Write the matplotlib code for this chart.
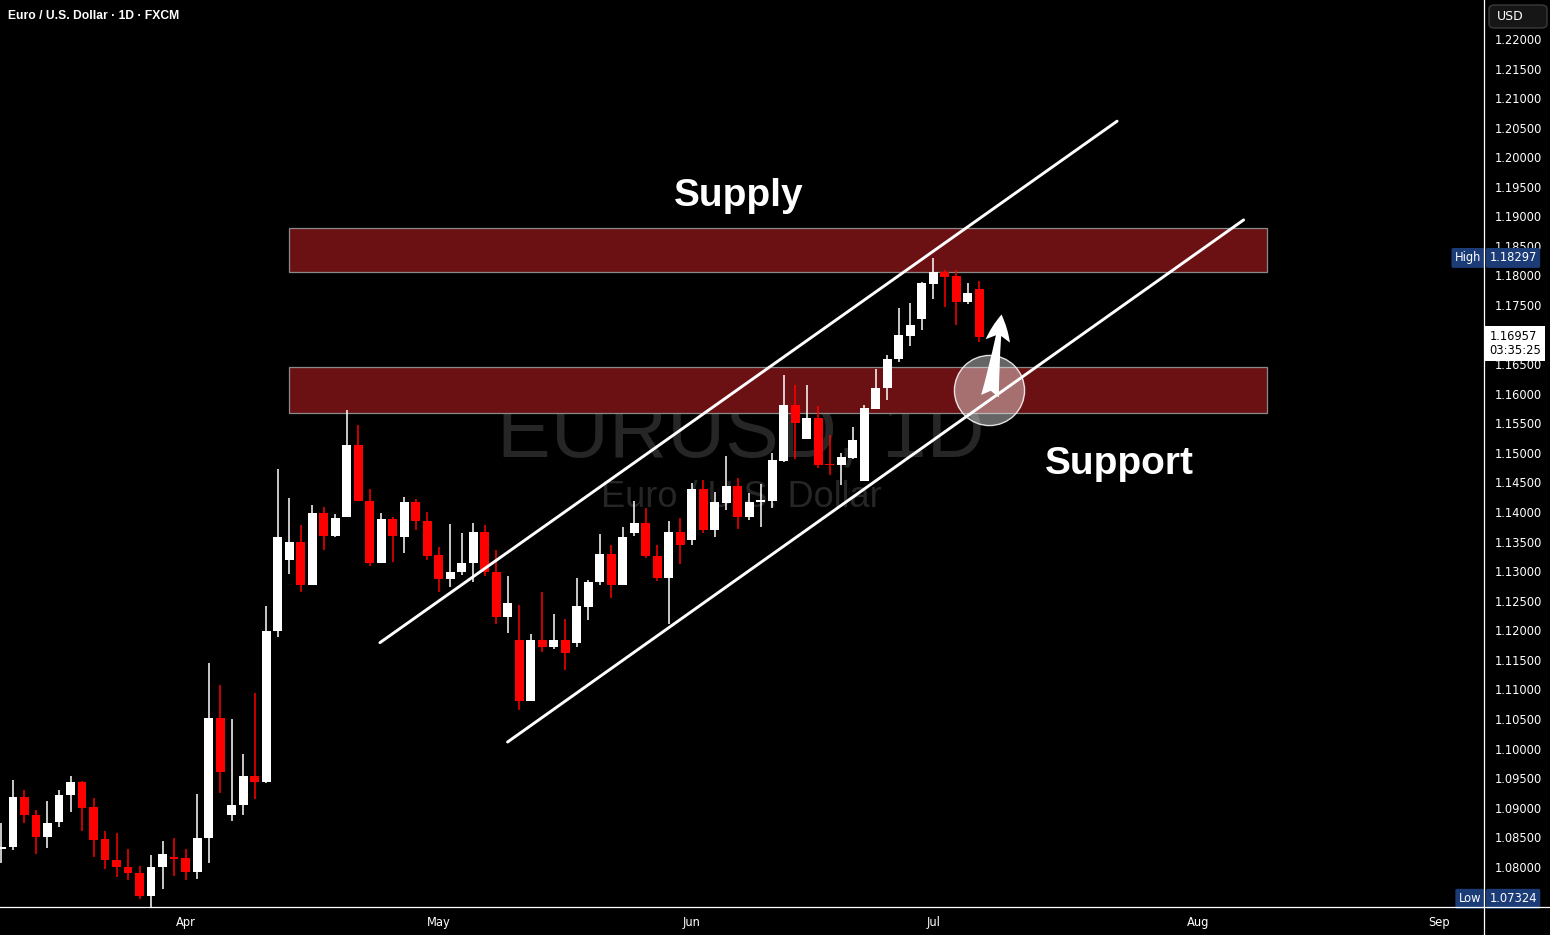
import matplotlib
matplotlib.use("Agg")
import matplotlib.pyplot as plt
import matplotlib.transforms as mtransforms
from matplotlib.patches import Rectangle, FancyBboxPatch
from matplotlib.lines import Line2D
import numpy as np
import pandas as pd

# ---------------------------------------------------------------------------
# Data (EURUSD daily)
# ---------------------------------------------------------------------------
dates = pd.bdate_range("2025-03-10", "2025-07-07")

opens = [1.0830, 1.0833, 1.0918, 1.0888, 1.0850, 1.0875, 1.0921, 1.0944, 1.0901, 1.0847,
         1.0812, 1.0800, 1.0790, 1.0751, 1.0799, 1.0817, 1.0815, 1.0792, 1.0848, 1.1052,
         1.0887, 1.0904, 1.0954, 1.0944, 1.1198, 1.1319, 1.1350, 1.1277, 1.1399, 1.1360,
         1.1391, 1.1513, 1.1419, 1.1313, 1.1388, 1.1357, 1.1417, 1.1385, 1.1327, 1.1286,
         1.1299, 1.1313, 1.1366, 1.1299, 1.1223, 1.1184, 1.1081, 1.1184, 1.1172, 1.1184,
         1.1178, 1.1240, 1.1281, 1.1329, 1.1277, 1.1364, 1.1382, 1.1326, 1.1289, 1.1366,
         1.1352, 1.1439, 1.1369, 1.1416, 1.1444, 1.1392, 1.1417, 1.1419, 1.1487, 1.1581,
         1.1524, 1.1559, 1.1480, 1.1479, 1.1492, 1.1453, 1.1575, 1.1609, 1.1658, 1.1698,
         1.1727, 1.1786, 1.1806, 1.1799, 1.1756, 1.1777]
highs = [1.0874, 1.0947, 1.0930, 1.0896, 1.0912, 1.0930, 1.0954, 1.0945, 1.0917, 1.0861,
         1.0857, 1.0830, 1.0802, 1.0820, 1.0844, 1.0849, 1.0830, 1.0923, 1.1145, 1.1108,
         1.1050, 1.0991, 1.1094, 1.1241, 1.1473, 1.1424, 1.1378, 1.1412, 1.1409, 1.1397,
         1.1573, 1.1547, 1.1439, 1.1399, 1.1392, 1.1426, 1.1422, 1.1400, 1.1341, 1.1380,
         1.1365, 1.1382, 1.1378, 1.1336, 1.1292, 1.1243, 1.1194, 1.1265, 1.1228, 1.1219,
         1.1289, 1.1285, 1.1363, 1.1344, 1.1375, 1.1419, 1.1407, 1.1344, 1.1385, 1.1390,
         1.1449, 1.1454, 1.1434, 1.1495, 1.1458, 1.1432, 1.1448, 1.1500, 1.1632, 1.1615,
         1.1615, 1.1579, 1.1530, 1.1500, 1.1544, 1.1581, 1.1642, 1.1666, 1.1745, 1.1754,
         1.1789, 1.18297, 1.1809, 1.1809, 1.1787, 1.1791]
lows = [1.0806, 1.0829, 1.0874, 1.0822, 1.0831, 1.0868, 1.0892, 1.0861, 1.0816, 1.0797,
        1.0782, 1.0777, 1.0745, 1.07324, 1.0763, 1.0784, 1.0778, 1.0780, 1.0806, 1.0924,
        1.0878, 1.0888, 1.0914, 1.0942, 1.1188, 1.1296, 1.1264, 1.1277, 1.1335, 1.1357,
        1.1391, 1.1418, 1.1308, 1.1313, 1.1316, 1.1330, 1.1370, 1.1318, 1.1265, 1.1274,
        1.1294, 1.1281, 1.1292, 1.1211, 1.1196, 1.1066, 1.1081, 1.1164, 1.1169, 1.1132,
        1.1171, 1.1218, 1.1277, 1.1255, 1.1277, 1.1360, 1.1323, 1.1284, 1.1211, 1.1312,
        1.1345, 1.1364, 1.1357, 1.1404, 1.1372, 1.1387, 1.1374, 1.1406, 1.1484, 1.1489,
        1.1524, 1.1475, 1.1462, 1.1446, 1.1489, 1.1453, 1.1575, 1.1590, 1.1653, 1.1681,
        1.1708, 1.1761, 1.1747, 1.1717, 1.1751, 1.1687]
closes = [1.0834, 1.0918, 1.0887, 1.0850, 1.0874, 1.0922, 1.0944, 1.0900, 1.0846, 1.0811,
          1.0799, 1.0789, 1.0751, 1.0800, 1.0822, 1.0813, 1.0792, 1.0849, 1.1052, 1.0961,
          1.0905, 1.0954, 1.0944, 1.1199, 1.1358, 1.1350, 1.1277, 1.1399, 1.1360, 1.1390,
          1.1513, 1.1418, 1.1313, 1.1388, 1.1360, 1.1417, 1.1384, 1.1326, 1.1286, 1.1299,
          1.1314, 1.1366, 1.1298, 1.1223, 1.1246, 1.1081, 1.1184, 1.1172, 1.1184, 1.1161,
          1.1241, 1.1282, 1.1329, 1.1277, 1.1358, 1.1382, 1.1325, 1.1289, 1.1366, 1.1345,
          1.1439, 1.1369, 1.1417, 1.1444, 1.1392, 1.1417, 1.1420, 1.1488, 1.1581, 1.1550,
          1.1559, 1.1479, 1.1479, 1.1493, 1.1522, 1.1576, 1.1610, 1.1659, 1.1700, 1.1716,
          1.1787, 1.1806, 1.1798, 1.1756, 1.1771, 1.16957]

# zones: (first bar, last bar, bottom, top)
supply_zone = (25, 110, 1.1806, 1.1880)
support_zone = (25, 110, 1.1568, 1.1645)

# channel lines: (x0, y0, x1, y1) in bar index / price
upper_line = (32.9, 1.1179, 97.0, 1.2061)
lower_line = (44.0, 1.1011, 108.0, 1.1894)

circle_pt = (85.9, 1.1607)
arrow_from = (85.95, 1.1596)
arrow_to = (86.95, 1.1734)

month_labels = ["Apr", "May", "Jun", "Jul", "Aug", "Sep"]
countdown = "03:35:25"

# ---------------------------------------------------------------------------
# Figure
# ---------------------------------------------------------------------------
W, H = 1550, 935
fig = plt.figure(figsize=(W / 100, H / 100), dpi=100, facecolor="black")
ax = fig.add_axes([0, (H - 907) / H, 1484 / W, 907 / H], facecolor="black")

x = np.arange(len(opens))
o = np.array(opens); c = np.array(closes)
hi = np.array(highs); lo = np.array(lows)
up = c >= o
cols = np.where(up, "white", "#ff0000")

ax.vlines(x, lo, hi, colors=cols, linewidth=1.1, zorder=3)
body_lo = np.minimum(o, c)
body_h = np.maximum(np.abs(c - o), 0.00018)
ax.bar(x, body_h, bottom=body_lo, width=0.78, color=cols, linewidth=0, zorder=4)

# watermark
ax.text(64.3, 1.1529, "EURUSD, 1D", color="#262626", fontsize=58,
        family="Liberation Sans", ha="center", va="center", zorder=1)
ax.text(64.3, 1.1425, "Euro / U.S. Dollar", color="#262626", fontsize=26,
        family="Liberation Sans", ha="center", va="center", zorder=1)

# zones
for z in (supply_zone, support_zone):
    ax.add_patch(Rectangle((z[0], z[2]), z[1] - z[0], z[3] - z[2],
                           facecolor="#6b1114", edgecolor="#8a8a8a", lw=0.9, zorder=2))

# channel
for ln in (upper_line, lower_line):
    ax.plot([ln[0], ln[2]], [ln[1], ln[3]], color="white", lw=2.1,
            solid_capstyle="round", zorder=5)

ax.scatter([circle_pt[0]], [circle_pt[1]], s=2550, facecolor=(1, 1, 1, 0.4),
           edgecolor=(1, 1, 1, 0.85), linewidth=1.0, zorder=6)
ax.annotate("", xy=arrow_to, xytext=arrow_from,
            arrowprops=dict(arrowstyle="fancy,head_length=0.6,head_width=0.55,tail_width=0.4",
                            color="white", lw=0, mutation_scale=32, shrinkA=0, shrinkB=0),
            zorder=7)

ax.text(64.1, 1.1935, "Supply", color="white", fontsize=28, fontweight="bold",
        family="Liberation Sans", ha="center", va="center", zorder=8)
ax.text(97.2, 1.1482, "Support", color="white", fontsize=28, fontweight="bold",
        family="Liberation Sans", ha="center", va="center", zorder=8)

# axes
ax.set_xlim(-0.13, 128.9)
ax.set_ylim(1.07320, 1.22659)
all_days = pd.bdate_range("2025-03-10", "2025-09-30")
month_pos = [int(np.argmax(all_days.month == m)) for m in (4, 5, 6, 7, 8, 9)]
ax.set_xticks(month_pos)
ax.set_xticklabels(month_labels)
last = closes[-1]
yt = np.arange(1.080, 1.2201, 0.005)
ax.set_yticks(yt)
# the tick hidden under the last-price box is left blank
ax.set_yticklabels(["" if abs(v - last) < 0.001 else f"{v:.5f}" for v in yt])
ax.yaxis.tick_right()
ax.tick_params(axis="y", length=0, pad=8, labelsize=8.3, labelcolor="white")
ax.tick_params(axis="x", length=0, pad=6.5, labelsize=8.3, labelcolor="white")
for s in ax.spines.values():
    s.set_visible(False)

# frame lines across the whole figure
fig.add_artist(Line2D([0, 1], [(H - 907) / H] * 2, color="white", lw=0.9,
                      transform=fig.transFigure))
fig.add_artist(Line2D([1484 / W] * 2, [0, 1], color="white", lw=0.9,
                      transform=fig.transFigure))

# price-scale labels
tr = mtransforms.blended_transform_factory(ax.transAxes, ax.transData)
blue = "#1c3c78"
hmax = max(highs); lmin = min(lows)
for val, name, ypos in ((hmax, "High", hmax), (lmin, "Low", lmin + 0.00135)):
    ax.text(1.0036, ypos, f"{val:.5f}", transform=tr, color="white", fontsize=8.3,
            ha="left", va="center", clip_on=False, zorder=10,
            bbox=dict(boxstyle="round,pad=0.3,rounding_size=0.15", fc=blue, ec="none"))
    ax.text(0.9982, ypos, name, transform=tr, color="white", fontsize=8.3,
            ha="right", va="center", clip_on=False, zorder=10,
            bbox=dict(boxstyle="round,pad=0.3,rounding_size=0.15", fc=blue, ec="none"))
ax.text(1.0036, last - 0.00105, f"{last:.5f}\n{countdown}", transform=tr, color="black",
        fontsize=8.3, ha="left", va="center", clip_on=False, zorder=10, linespacing=1.05,
        bbox=dict(boxstyle="square,pad=0.35", fc="white", ec="none"))

fig.add_artist(FancyBboxPatch((1489 / W, 1 - 28 / H), 58 / W, 23 / H,
                              boxstyle="round,pad=0,rounding_size=0.004",
                              fc="#161616", ec="#3a3a3a", lw=1, transform=fig.transFigure))
fig.text(1497 / W, 1 - 16.5 / H, "USD", color="white", fontsize=9, va="center", ha="left")
fig.text(8 / W, 1 - 16 / H, "Euro / U.S. Dollar · 1D · FXCM", color="white", fontsize=8.7,
         family="Liberation Sans", fontweight="bold", va="center", ha="left")

fig.savefig("out.png", dpi=100, facecolor="black")
